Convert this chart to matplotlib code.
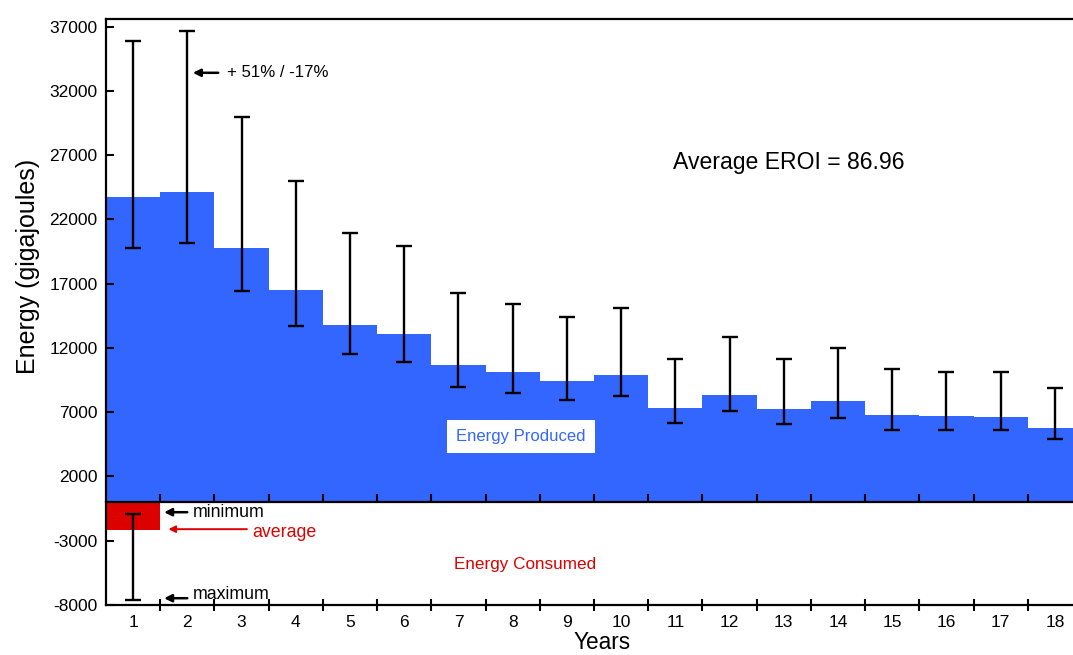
import matplotlib.pyplot as plt
import numpy as np

plt.rcParams['font.family'] = ['Liberation Sans', 'DejaVu Sans']
plt.rcParams['axes.unicode_minus'] = False

# data
years = np.arange(1, 19)
produced = [23700, 24150, 19800, 16500, 13800, 13100, 10700, 10150, 9450, 9900,
            7350, 8350, 7250, 7850, 6800, 6700, 6650, 5800]
prod_upper = [35850, 36650, 29950, 25000, 20900, 19950, 16300, 15450, 14400, 15100,
              11150, 12850, 11100, 12000, 10350, 10150, 10100, 8850]
prod_lower = [19750, 20150, 16450, 13700, 11550, 10900, 8950, 8500, 7950, 8250,
              6150, 7100, 6100, 6550, 5650, 5600, 5600, 4900]
consumed = -2180
cons_min = -930
cons_max = -7580

blue = '#3366ff'
red = '#dd0000'

fig = plt.figure(figsize=(10.73, 6.55), dpi=100)
ax = fig.add_axes([0.0988, 0.0763, 0.9096, 0.895])

ax.bar(years, produced, width=1.0, color=blue, edgecolor='none', zorder=1)
ax.bar([1], [consumed], width=1.0, color=red, edgecolor='none', zorder=1)

prod = np.array(produced)
yerr = [prod - np.array(prod_lower), np.array(prod_upper) - prod]
ax.errorbar(years, prod, yerr=yerr, fmt='none', ecolor='black', elinewidth=1.7,
            capsize=5.5, capthick=1.7, zorder=3)
ax.errorbar([1], [consumed], yerr=[[consumed - cons_max], [cons_min - consumed]],
            fmt='none', ecolor='black', elinewidth=1.7, capsize=5.5, capthick=1.7, zorder=3)

ymin, ymax = -8000, 37600
ax.set_xlim(0.5, 18.5)
ax.set_ylim(ymin, ymax)

ax.set_yticks([37000, 32000, 27000, 22000, 17000, 12000, 7000, 2000, -3000, -8000])
ax.set_xticks(np.arange(1.5, 18.5, 1.0))
ax.set_xticklabels([])
ax.set_xticks(years, minor=True)
ax.set_xticklabels([str(y) for y in years], minor=True)
ax.tick_params(axis='x', which='major', direction='inout', length=8, width=1.5)
ax.tick_params(axis='x', which='minor', length=0, pad=7, labelsize=12.5)
ax.tick_params(axis='y', direction='in', length=6, width=1.5, labelsize=12.5, pad=6)

for side in ['left', 'bottom', 'top', 'right']:
    ax.spines[side].set_linewidth(1.6)

# zero line with its own ticks
zero = ax.secondary_xaxis((0 - ymin) / (ymax - ymin))
zero.set_zorder(5)
zero.set_xticks(np.arange(1.5, 18.5, 1.0))
zero.set_xticklabels([])
zero.tick_params(direction='in', length=6, width=1.5)
zero.spines['bottom'].set_linewidth(1.6)

ax.set_ylabel('Energy (gigajoules)', fontsize=18)
ax.yaxis.set_label_coords(-0.068, 0.578)
ax.set_xlabel('Years', fontsize=16.3)
ax.xaxis.set_label_coords(0.508, -0.045)

ax.text(10.95, 26400, 'Average EROI = 86.96', fontsize=16.6, va='center', ha='left')

ax.annotate('', xy=(2.05, 33400), xytext=(2.62, 33400),
            arrowprops=dict(arrowstyle='-|>', color='black', lw=1.8, mutation_scale=11))
ax.text(2.74, 33400, '+ 51% / -17%', fontsize=12.1, va='center', ha='left')

ax.text(8.15, 5100, 'Energy Produced', fontsize=12, color=blue, ha='center', va='center',
        bbox=dict(facecolor='white', edgecolor='none', boxstyle='square,pad=0.55'))
ax.text(8.22, -4850, 'Energy Consumed', fontsize=12.3, color=red, ha='center', va='center')

ax.annotate('', xy=(1.52, -780), xytext=(2.05, -780),
            arrowprops=dict(arrowstyle='-|>', color='black', lw=1.8, mutation_scale=11))
ax.text(2.1, -780, 'minimum', fontsize=12.8, va='center', ha='left')
ax.annotate('', xy=(1.6, -2100), xytext=(3.15, -2100),
            arrowprops=dict(arrowstyle='-|>', color=red, lw=1.4, mutation_scale=10))
ax.text(3.2, -2350, 'average', fontsize=12.8, color=red, va='center', ha='left')
ax.annotate('', xy=(1.52, -7470), xytext=(2.05, -7470),
            arrowprops=dict(arrowstyle='-|>', color='black', lw=1.8, mutation_scale=11))
ax.text(2.1, -7150, 'maximum', fontsize=12.8, va='center', ha='left')

fig.savefig('out.png', dpi=100)
